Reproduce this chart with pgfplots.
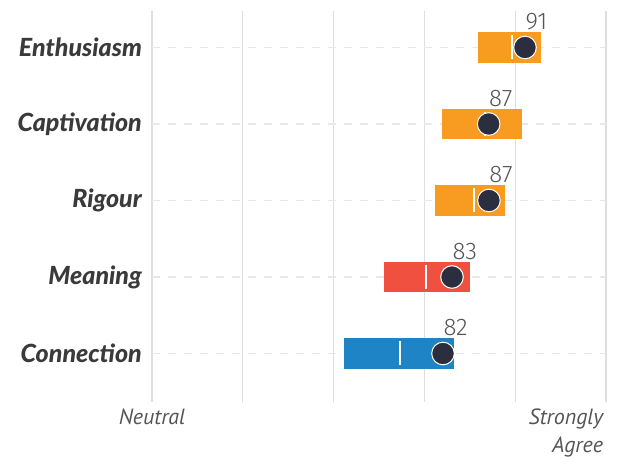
\documentclass[border=0pt]{standalone}
\usepackage{pgfplots}
\pgfplotsset{compat=1.18}
\usepackage{fontspec}
\setmainfont{PT Sans}
\newfontfamily\valfont{Fira Sans Light}
\newfontfamily\catfont{Lato Black Italic}
\definecolor{barorange}{HTML}{F79B21}
\definecolor{barred}{HTML}{F05040}
\definecolor{barblue}{HTML}{1F84C6}
\definecolor{dotcol}{HTML}{2B2E3E}
\definecolor{labcol}{HTML}{3A3A3A}
\definecolor{tickcol}{HTML}{555555}
\definecolor{gridcol}{HTML}{DEDEDE}
\definecolor{hgridcol}{HTML}{E8E8E8}

\begin{document}
\begin{tikzpicture}
\path[use as bounding box] (-152bp,-59bp) rectangle (465bp,402bp);
\begin{axis}[
  at={(0,0)}, anchor=south west,
  scale only axis, width=454bp, height=391bp,
  xmin=50, xmax=100, ymin=-0.634, ymax=4.477,
  xtick={50,100},
  xticklabels={{\begin{tabular}{@{}c@{}}Neutral\end{tabular}},
               {\makebox[0pt][r]{\begin{tabular}{@{}r@{}}Strongly\\Agree\end{tabular}\hspace*{3bp}}}},
  minor xtick={60,70,80,90},
  ytick={0,1,2,3,4},
  yticklabels={Connection,Meaning,Rigour,Captivation,Enthusiasm},
  xmajorgrids, xminorgrids, ymajorgrids,
  major x grid style={draw=gridcol, line width=1.2bp},
  minor x grid style={draw=gridcol, line width=1.2bp},
  major y grid style={draw=hgridcol, line width=1.5bp, dash pattern=on 8bp off 8bp},
  axis line style={draw=none},
  major tick length=0pt, minor tick length=0pt,
  tick style={draw=none},
  xticklabel style={font=\itshape\fontsize{22bp}{28.4bp}\selectfont, text=tickcol, inner sep=2.5bp, anchor=north},
  yticklabel style={font=\catfont\fontsize{25bp}{25bp}\selectfont, text=labcol, inner sep=0pt, xshift=-10bp},
  clip=false,
]
% bars
\addplot[barorange, line width=30.7bp, line cap=butt] coordinates {(85.90,4) (92.84,4)};
\addplot[barorange, line width=30.7bp, line cap=butt] coordinates {(81.94,3) (90.75,3)};
\addplot[barorange, line width=30.7bp, line cap=butt] coordinates {(81.17,2) (88.84,2)};
\addplot[barred,    line width=30.7bp, line cap=butt] coordinates {(75.55,1) (84.99,1)};
\addplot[barblue,   line width=30.7bp, line cap=butt] coordinates {(71.15,0) (83.26,0)};
% white markers
\addplot[only marks, mark=|, mark size=12bp, mark options={draw=white, line width=2bp}]
  coordinates {(89.68,4) (86.67,3) (85.46,2) (80.21,1) (77.31,0)};
% dots with labels
\addplot[only marks, mark=*, mark size=11.3bp,
  mark options={fill=dotcol, draw=white, line width=1bp},
  point meta=explicit symbolic,
  nodes near coords,
  every node near coord/.append style={font=\valfont\fontsize{24bp}{24bp}\selectfont,
    text=tickcol, anchor=south west, inner sep=0pt, yshift=17bp, xshift=0bp}]
  table[meta=lab] {
x y lab
91.08 4 91
87.08 3 87
87.11 2 87
83.04 1 83
82.05 0 82
};
\end{axis}
\end{tikzpicture}
\end{document}
